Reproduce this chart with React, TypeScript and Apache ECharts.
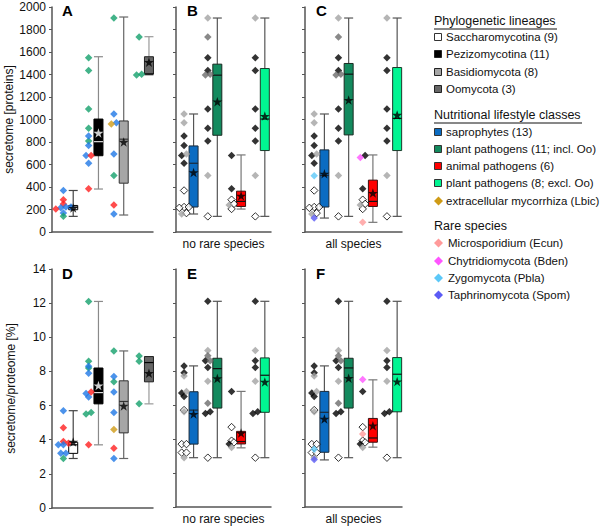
import React, { useEffect, useRef } from "react";
import * as echarts from "echarts";

// ---------- data ----------
const lineageKeys = ["Sac", "Pez", "Bas", "Oom"];
const lineageNames = ["Saccharomycotina (9)", "Pezizomycotina (11)", "Basidiomycota (8)", "Oomycota (3)"];
const lifestyleKeys = ["sap", "plant", "ani", "plantEx"];
const lifestyleNames = ["saprophytes (13)", "plant pathogens (11; incl. Oo)", "animal pathogens (6)", "plant pathogens (8; excl. Oo)"];
const mycName = "extracellular mycorrhiza (Lbic)";
const rareKeys = ["Ecun", "Bden", "Pbla", "Spom"];
const rareNames = ["Microsporidium (Ecun)", "Chytridiomycota (Bden)", "Zygomycota (Pbla)", "Taphrinomycota (Spom)"];

// species (lineage, lifestyle, secretome [proteins], secretome/proteome [%])
const spLineage = [
  "Sac", "Sac", "Sac", "Sac", "Sac", "Sac", "Sac", "Sac", "Sac",
  "Pez", "Pez", "Pez", "Pez", "Pez", "Pez", "Pez", "Pez", "Pez", "Pez", "Pez",
  "Bas", "Bas", "Bas", "Bas", "Bas", "Bas", "Bas", "Bas",
  "Oom", "Oom", "Oom",
  "Ecun", "Bden", "Pbla", "Spom",
];
const spLifestyle = [
  "sap", "ani", "ani", "sap", "sap", "sap", "ani", "sap", "plant",
  "plant", "plant", "plant", "plant", "plant", "sap", "sap", "sap", "sap", "ani", "ani",
  "plant", "plant", "sap", "sap", "sap", "sap", "myc", "ani",
  "plant", "plant", "plant",
  "ani", "ani", "sap", "sap",
];
const spSecretome = [
  369, 287, 250, 222, 222, 215, 205, 168, 139,
  1550, 1436, 1093, 922, 809, 854, 768, 679, 611, 679, 384,
  1902, 502, 1049, 972, 694, 160, 960, 239,
  1734, 1403, 1395,
  86, 662, 499, 124,
];
const spPercent = [
  5.7, 4.7, 3.9, 3.7, 3.2, 3.2, 3.8, 3.7, 2.9,
  12.1, 8.6, 8.2, 5.6, 5.5, 8.3, 7.9, 6.7, 6.5, 6.8, 3.7,
  9.2, 7.4, 7.7, 6.8, 5.6, 2.9, 4.6, 3.5,
  8.9, 8.6, 6.1,
  4.3, 7.5, 3.4, 2.8,
];

// box statistics: [min, Q1, median, Q3, max, mean]
const boxA = [[139, 198, 222, 236, 369, 213], [382, 678, 803, 1004, 1558, 880], [151, 434, 825, 987, 1911, 800], [1395, 1404, 1404, 1558, 1736, 1510]];
const boxB = [[160, 222, 611, 765, 1049, 529], [139, 860, 1394, 1492, 1902, 1158], [204, 227, 272, 363, 685, 322], [139, 724, 1004, 1453, 1902, 1031]];
const boxC = [[124, 222, 502, 730, 1049, 517], [139, 863, 1403, 1498, 1902, 1173], [86, 227, 272, 461, 685, 346], [139, 724, 1010, 1462, 1902, 1040]];
const boxD = [[2.9, 3.2, 3.7, 3.85, 5.7, 3.87], [3.7, 6.1, 6.76, 8.2, 12.1, 7.17], [2.9, 4.4, 6.24, 7.45, 9.2, 5.98], [6.1, 7.39, 8.52, 8.87, 8.87, 7.9]];
const boxE = [[2.9, 3.7, 5.7, 6.78, 8.3, 5.47], [2.9, 5.82, 8.14, 8.75, 12.1, 7.56], [3.48, 3.71, 3.85, 4.45, 6.8, 4.35], [2.9, 5.57, 7.75, 8.77, 12.1, 7.36]];
const boxF = [[2.77, 3.22, 5.57, 6.8, 8.3, 5.18], [2.9, 5.82, 8.18, 8.75, 12.1, 7.58], [3.52, 3.81, 4.06, 5.21, 7.48, 4.78], [2.9, 5.6, 7.81, 8.79, 12.1, 7.38]];

const yTopMax = 2000;
const yTopInterval = 200;
const yBotMax = 14;
const yBotInterval = 2;

// ---------- styles ----------
const FONT = '"Liberation Sans", Arial, sans-serif';
const STAR = "path://M50,0L61.8,36.2L100,36.2L69.1,58.8L80.9,95.1L50,72.7L19.1,95.1L30.9,58.8L0,36.2L38.2,36.2Z";

const lifestyleDot: Record<string, any> = {
  sap: { color: "#1f78e6" },
  plant: { color: "#14a06b" },
  ani: { color: "#ff1f1f" },
  myc: { color: "#cf9b16" },
};
const lineageDot: Record<string, any> = {
  Sac: { color: "#ffffff", borderColor: "#000", borderWidth: 1 },
  Pez: { color: "#000000" },
  Bas: { color: "#a3a3a3" },
  Oom: { color: "#6b6b6b" },
  Ecun: { color: "#ff9a9a" },
  Bden: { color: "#ff55ff" },
  Pbla: { color: "#5cc8f8" },
  Spom: { color: "#5b5bf5" },
};
const lineageBox = [
  { fill: "#ffffff", border: "#000", median: "#000", whisker: "#444", star: "#000" },
  { fill: "#000000", border: "#000", median: "#e0e0e0", whisker: "#8a8a8a", star: "#fff" },
  { fill: "#a6a6a6", border: "#333", median: "#333", whisker: "#666", star: "#000" },
  { fill: "#666666", border: "#222", median: "#000", whisker: "#999", star: "#000" },
];
const lifestyleBox = [
  { fill: "#0b6cc2", border: "#1a2a3a", median: "#1a2a3a", whisker: "#555", star: "#000" },
  { fill: "#138a5e", border: "#1a2a22", median: "#111", whisker: "#555", star: "#000" },
  { fill: "#ff0000", border: "#3a1010", median: "#111", whisker: "#777", star: "#000" },
  { fill: "#00f592", border: "#1a3a2a", median: "#111", whisker: "#555", star: "#000" },
];

// ---------- helpers ----------
function spreadOffsets(vals: number[], tol: number, step: number): number[] {
  const idx = vals.map((_, i) => i).sort((a, b) => vals[a] - vals[b]);
  const off = new Array(vals.length).fill(0);
  let start = 0;
  for (let k = 1; k <= idx.length; k++) {
    if (k === idx.length || vals[idx[k]] - vals[idx[k - 1]] > tol) {
      const n = k - start;
      for (let j = 0; j < n; j++) off[idx[start + j]] = (j - (n - 1) / 2) * step;
      start = k;
    }
  }
  return off;
}

type Dot = { v: number; style: any };

function byLineage(values: number[]): Dot[][] {
  return lineageKeys.map((lk) =>
    values
      .map((v, i) => ({ v, i }))
      .filter((d) => spLineage[d.i] === lk)
      .map((d) => ({ v: d.v, style: lifestyleDot[spLifestyle[d.i]] }))
  );
}

function byLifestyle(values: number[], withRare: boolean): Dot[][] {
  return lifestyleKeys.map((fk) =>
    values
      .map((v, i) => ({ v, i }))
      .filter((d) => {
        const lin = spLineage[d.i];
        const life = spLifestyle[d.i];
        if (!withRare && rareKeys.includes(lin)) return false;
        if (fk === "plantEx") return life === "plant" && lin !== "Oom";
        return life === fk;
      })
      .map((d) => ({ v: d.v, style: lineageDot[spLineage[d.i]] }))
  );
}

function buildPanel(grid: number, groups: Dot[][], boxes: number[][], boxStyle: any[], dotOff: number, boxOff: number, tol: number) {
  const dots: any[] = [];
  groups.forEach((g, gi) => {
    const offs = spreadOffsets(g.map((d) => d.v), tol, 0.2);
    g.forEach((d, k) => dots.push({ value: [gi + dotOff + offs[k], d.v], itemStyle: d.style }));
  });
  const boxData = boxes.map((b, gi) => [gi + boxOff, b[0], b[1], b[2], b[3], b[4]]);
  const stars = boxes.map((b, gi) => ({ value: [gi + boxOff, b[5]], itemStyle: { color: boxStyle[gi].star } }));
  return [
    {
      type: "custom",
      xAxisIndex: grid,
      yAxisIndex: grid,
      z: 2,
      data: boxData,
      renderItem: (params: any, api: any) => {
        const x = api.value(0);
        const st = boxStyle[params.dataIndex];
        const pMin = api.coord([x, api.value(1)]);
        const pQ1 = api.coord([x, api.value(2)]);
        const pMed = api.coord([x, api.value(3)]);
        const pQ3 = api.coord([x, api.value(4)]);
        const pMax = api.coord([x, api.value(5)]);
        const hw = 4.5;
        const cx = pMin[0];
        const ls = { stroke: st.whisker, lineWidth: 1.2 };
        return {
          type: "group",
          children: [
            { type: "line", shape: { x1: cx, y1: pMax[1], x2: cx, y2: pMin[1] }, style: ls },
            { type: "line", shape: { x1: cx - hw, y1: pMax[1], x2: cx + hw, y2: pMax[1] }, style: ls },
            { type: "line", shape: { x1: cx - hw, y1: pMin[1], x2: cx + hw, y2: pMin[1] }, style: ls },
            { type: "rect", shape: { x: cx - hw, y: pQ3[1], width: 2 * hw, height: pQ1[1] - pQ3[1] }, style: { fill: st.fill, stroke: st.border, lineWidth: 1 } },
            { type: "line", shape: { x1: cx - hw, y1: pMed[1], x2: cx + hw, y2: pMed[1] }, style: { stroke: st.median, lineWidth: 1.2 } },
          ],
        };
      },
    },
    {
      type: "scatter",
      xAxisIndex: grid,
      yAxisIndex: grid,
      z: 3,
      symbol: "diamond",
      symbolSize: 7.5,
      data: dots,
    },
    {
      type: "scatter",
      xAxisIndex: grid,
      yAxisIndex: grid,
      z: 4,
      symbol: STAR,
      symbolKeepAspect: true,
      symbolSize: 10,
      data: stars,
    },
  ];
}

function legendGraphics(): any[] {
  const els: any[] = [];
  const txt = (x: number, y: number, text: string, size: number) => ({
    type: "text",
    x,
    y,
    silent: true,
    style: { text, fill: "#111", fontSize: size, fontFamily: FONT, textVerticalAlign: "middle", verticalAlign: "middle", textAlign: "left", align: "left" },
  });
  const header = (y: number, text: string, uw: number) => {
    els.push(txt(434, y, text, 12.5));
    if (uw > 0) els.push({ type: "line", silent: true, shape: { x1: 434, y1: y + 8, x2: 434 + uw, y2: y + 8 }, style: { stroke: "#111", lineWidth: 1 } });
  };
  const square = (y: number, fill: string, stroke: string) =>
    els.push({ type: "rect", silent: true, shape: { x: 434.5, y: y - 3.5, width: 7, height: 7 }, style: { fill, stroke, lineWidth: 1 } });
  const diamond = (y: number, fill: string) =>
    els.push({ type: "polygon", silent: true, shape: { points: [[438.5, y - 4.5], [443, y], [438.5, y + 4.5], [434, y]] }, style: { fill } });

  header(21, "Phylogenetic lineages", 123);
  const linY = [37, 54, 72, 89];
  lineageNames.forEach((n, i) => {
    const b = lineageBox[i];
    square(linY[i], b.fill, i === 0 ? "#333" : "#222");
    els.push(txt(446, linY[i], n, 11.5));
  });
  header(115, "Nutritional lifestyle classes", 148);
  const lifeY = [132, 149, 166, 183];
  lifestyleNames.forEach((n, i) => {
    square(lifeY[i], lifestyleBox[i].fill, "#333");
    els.push(txt(446, lifeY[i], n, 11.5));
  });
  diamond(201, lifestyleDot.myc.color);
  els.push(txt(446, 201, mycName, 11.5));
  header(226, "Rare species", 0);
  const rareY = [243, 261, 278, 295];
  rareNames.forEach((n, i) => {
    diamond(rareY[i], lineageDot[rareKeys[i]].color);
    els.push(txt(448, rareY[i], n, 11.5));
  });
  return els;
}

export default function App() {
  const ref = useRef<HTMLDivElement>(null);
  useEffect(() => {
    if (!ref.current) return;
    const chart = echarts.init(ref.current, undefined, { renderer: "svg" });

    const grids = [
      { left: 52, top: 7, width: 101, height: 225 },
      { left: 176, top: 7, width: 95, height: 225 },
      { left: 305, top: 7, width: 97, height: 225 },
      { left: 52, top: 269, width: 101, height: 239 },
      { left: 176, top: 269, width: 95, height: 239 },
      { left: 305, top: 269, width: 97, height: 239 },
    ];
    const xNames = ["", "no rare species", "all species", "", "no rare species", "all species"];
    const axisLineStyle = { color: "#555", width: 1.5 };

    const xAxes = grids.map((_, i) => ({
      type: "value",
      gridIndex: i,
      min: 0,
      max: 4,
      axisLine: { show: true, onZero: false, lineStyle: axisLineStyle },
      axisTick: { show: false },
      axisLabel: { show: false },
      splitLine: { show: false },
      name: xNames[i],
      nameLocation: "middle",
      nameGap: 6,
      nameTextStyle: { fontSize: 12, color: "#111", fontFamily: FONT, verticalAlign: "top" },
    }));
    const yAxes = grids.map((_, i) => {
      const top = i < 3;
      const showLabel = i === 0 || i === 3;
      return {
        type: "value",
        gridIndex: i,
        min: 0,
        max: top ? yTopMax : yBotMax,
        interval: top ? yTopInterval : yBotInterval,
        axisLine: { show: true, lineStyle: axisLineStyle },
        axisTick: { show: true, length: 3, lineStyle: { color: "#555", width: 1 } },
        axisLabel: { show: showLabel, fontSize: 12, color: "#111", fontFamily: FONT, margin: 6, formatter: (v: number) => String(v) },
        splitLine: { show: false },
        name: showLabel ? (top ? "secretome [proteins]" : "secretome/proteome [%]") : "",
        nameLocation: "middle",
        nameRotate: 90,
        nameGap: 35,
        nameTextStyle: { fontSize: 12, color: "#111", fontFamily: FONT },
      };
    });

    const series = [
      ...buildPanel(0, byLineage(spSecretome), boxA, lineageBox, 0.45, 0.84, 20),
      ...buildPanel(1, byLifestyle(spSecretome, false), boxB, lifestyleBox, 0.34, 0.74, 20),
      ...buildPanel(2, byLifestyle(spSecretome, true), boxC, lifestyleBox, 0.38, 0.8, 20),
      ...buildPanel(3, byLineage(spPercent), boxD, lineageBox, 0.45, 0.84, 0.1),
      ...buildPanel(4, byLifestyle(spPercent, false), boxE, lifestyleBox, 0.34, 0.74, 0.1),
      ...buildPanel(5, byLifestyle(spPercent, true), boxF, lifestyleBox, 0.38, 0.8, 0.1),
    ];

    const letters = [
      { t: "A", x: 62, y: 3 },
      { t: "B", x: 187, y: 3 },
      { t: "C", x: 316, y: 3 },
      { t: "D", x: 62, y: 266 },
      { t: "E", x: 187, y: 266 },
      { t: "F", x: 316, y: 266 },
    ].map((l) => ({
      type: "text",
      x: l.x,
      y: l.y,
      silent: true,
      style: { text: l.t, fill: "#000", fontSize: 15, fontWeight: "bold", fontFamily: FONT, textVerticalAlign: "top", verticalAlign: "top" },
    }));

    chart.setOption({
      animation: false,
      backgroundColor: "#ffffff",
      textStyle: { fontFamily: FONT },
      grid: grids,
      xAxis: xAxes,
      yAxis: yAxes,
      series,
      graphic: [...letters, ...legendGraphics()],
    });
    return () => chart.dispose();
  }, []);
  return <div ref={ref} style={{ position: "fixed", left: 0, top: 0, width: 600, height: 526 }} />;
}
